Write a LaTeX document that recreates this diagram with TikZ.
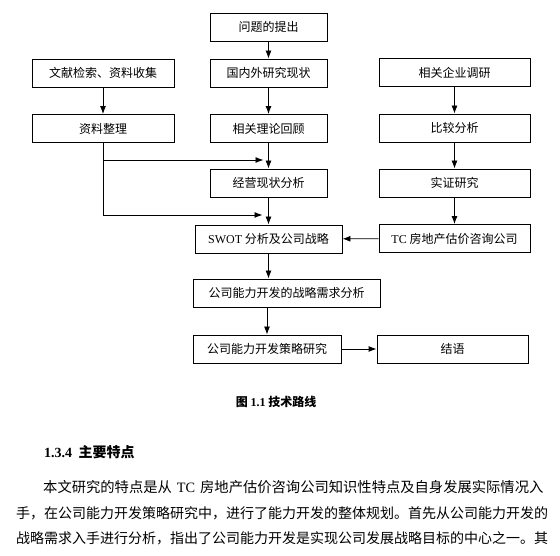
\documentclass[tikz,border=0pt]{standalone}
\usepackage{fontspec}
\usepackage{xcolor}
\usepackage{tikz}
\usetikzlibrary{arrows.meta}
\setmainfont{Noto Sans CJK SC}
\newfontfamily\latin{Liberation Serif}
\XeTeXlinebreaklocale "zh"
\XeTeXlinebreakskip=0pt plus 1pt minus 1pt
\tikzset{
  stepbox/.style={draw, line width=0.9pt, minimum height=28pt, inner sep=0pt, font=\fontsize{12}{14}\selectfont},
  link/.style={line width=0.9pt, -{Latex[length=8pt,width=6pt]}}
}
\begin{document}
\begin{tikzpicture}[x=1pt,y=-1pt]
\useasboundingbox (0,0) rectangle (560,556);
% centre column
\node[stepbox, minimum width=117pt] (tiChu) at (268.5,27) {问题的提出};
\node[stepbox, minimum width=117pt] (xianZhuang) at (268.5,73) {国内外研究现状};
\node[stepbox, minimum width=117pt] (liLun) at (268.5,128.5) {相关理论回顾};
\node[stepbox, minimum width=117pt] (jingYing) at (268.5,183) {经营现状分析};
\node[stepbox, minimum width=147pt] (swot) at (268.5,239) {{\latin SWOT} 分析及公司战略};
\node[stepbox, minimum width=187pt] (xuQiu) at (286.5,293) {公司能力开发的战略需求分析};
\node[stepbox, minimum width=148pt] (ceLue) at (267,349) {公司能力开发策略研究};
% left column
\node[stepbox, minimum width=142pt] (wenXian) at (103,73) {文献检索、资料收集};
\node[stepbox, minimum width=142pt] (zhengLi) at (103,128.5) {资料整理};
% right column
\node[stepbox, minimum width=151pt] (diaoYan) at (454.5,72.5) {相关企业调研};
\node[stepbox, minimum width=151pt] (biJiao) at (454.5,128) {比较分析};
\node[stepbox, minimum width=151pt] (shiZheng) at (454.5,183) {实证研究};
\node[stepbox, minimum width=151pt] (gongSi) at (454.5,238.5) {{\latin TC} 房地产估价咨询公司};
\node[stepbox, minimum width=151pt] (jieYu) at (452.5,349) {结语};
\coordinate (joinA) at (268.5,160);
\coordinate (joinB) at (268.5,215);

\draw[link] (tiChu) -- (xianZhuang);
\draw[link] (xianZhuang) -- (liLun);
\draw[link] (liLun) -- (jingYing);
\draw[link] (jingYing) -- (swot);
\draw[link] (swot.south) -- (swot.south |- xuQiu.north);
\draw[link] (ceLue.north |- xuQiu.south) -- (ceLue.north);
\draw[link] (wenXian) -- (zhengLi);
\draw[link, shorten >=5pt] (zhengLi.south) |- (joinA);
\draw[link, shorten >=6pt] (zhengLi.south) |- (joinB);
\draw[link] (diaoYan) -- (biJiao);
\draw[link] (biJiao) -- (shiZheng);
\draw[link] (shiZheng) -- (gongSi);
\draw[link] (gongSi) -- (swot);
\draw[link] (ceLue) -- (jieYu);

% caption and text below
\node[font=\fontsize{12}{14}\selectfont\bfseries] (tuMing) at (276,402) {图 {\latin 1.1} 技术路线};
\node[anchor=west, inner sep=0pt, font=\fontsize{14}{16}\selectfont\bfseries] (biaoTi) at (44,452) {{\latin 1.3.4}\ \ 主要特点};
\node[anchor=west, inner sep=0pt, font=\fontsize{14.3}{16}\selectfont] (hangA) at (43,487)
  {本文研究的特点是从\hskip 5pt{\latin TC}\hskip 5pt房地产估价咨询公司知识性特点及自身发展实际情况入};
\node[anchor=west, inner sep=0pt, font=\fontsize{14}{16}\selectfont] (hangB) at (16,513)
  {\hbox to 529pt{手，在公司能力开发策略研究中，进行了能力开发的整体规划。首先从公司能力开发的}};
\node[anchor=west, inner sep=0pt, font=\fontsize{14}{16}\selectfont] (hangC) at (16,538)
  {\hbox to 529pt{战略需求入手进行分析，指出了公司能力开发是实现公司发展战略目标的中心之一。其}};
\end{tikzpicture}
\end{document}
